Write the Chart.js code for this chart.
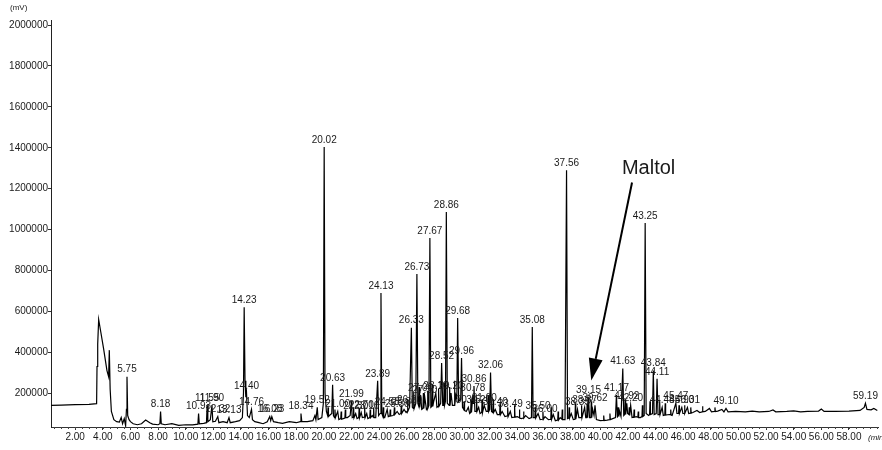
<!DOCTYPE html>
<html>
<head>
<meta charset="utf-8">
<script src="https://cdn.jsdelivr.net/npm/chart.js@4/dist/chart.umd.min.js"></script>
<style>
html,body{margin:0;padding:0;background:#fff;}
#wrap{width:882px;height:450px;position:relative;}
</style>
</head>
<body>
<div id="wrap"><canvas id="c" width="882" height="450"></canvas></div>
<script>
// ---- data ----
const xTicks = [2,4,6,8,10,12,14,16,18,20,22,24,26,28,30,32,34,36,38,40,42,44,46,48,50,52,54,56,58];
const yTicks = [200000,400000,600000,800000,1000000,1200000,1400000,1600000,1800000,2000000];
const xMinorStep = 0.5;

// trace: [retention time (min), signal]
const trace = [
[0.25,140000],[1.0,141000],[2.0,143000],[3.0,145000],[3.55,148000],[3.58,330000],[3.63,440000],[3.70,560000],[3.85,500000],[4.05,420000],[4.3,310000],[4.42,280000],[4.47,410000],[4.53,220000],[4.62,110000],[4.8,70000],[5.0,60000],[5.2,58000],[5.33,80000],[5.43,50000],[5.55,75000],[5.65,40000],[5.71,120000],[5.75,280000],[5.8,90000],[5.9,70000],[6.0,60000],[6.2,50000],[6.5,45000],[6.8,50000],[7.1,68000],[7.4,55000],[7.6,48000],[8.0,45000],[8.13,50000],[8.18,110000],[8.23,50000],[8.5,45000],[9.0,50000],[9.5,42000],[10.0,45000],[10.5,44000],[10.88,48000],[10.93,100000],[10.98,50000],[11.3,52000],[11.5,55000],[11.55,140000],[11.6,60000],[11.78,70000],[11.9,140000],[11.96,60000],[12.15,62000],[12.32,85000],[12.4,55000],[12.7,60000],[13.0,55000],[13.13,80000],[13.22,55000],[13.6,60000],[13.9,65000],[14.1,80000],[14.18,200000],[14.23,620000],[14.29,260000],[14.35,180000],[14.40,200000],[14.47,90000],[14.6,80000],[14.76,120000],[14.83,70000],[15.0,60000],[15.3,55000],[15.6,50000],[15.9,60000],[16.08,85000],[16.15,65000],[16.23,85000],[16.35,60000],[16.7,55000],[17.0,52000],[17.5,60000],[18.0,55000],[18.29,60000],[18.34,100000],[18.4,60000],[18.8,60000],[19.2,65000],[19.35,90000],[19.42,70000],[19.52,130000],[19.58,70000],[19.85,80000],
[19.96,150000],[20.02,1404000],[20.08,200000],[20.18,110000],[20.27,90000],[20.3,130000],[20.33,85000],[20.4,90000],[20.57,100000],[20.63,240000],[20.69,90000],[20.77,80000],[20.8,120000],[20.83,80000],[21.0,110000],[21.08,70000],[21.22,75000],[21.25,110000],[21.28,72000],[21.4,75000],[21.52,78000],[21.55,120000],[21.58,80000],[21.7,80000],[21.9,90000],[21.99,160000],[22.05,80000],[22.12,82000],[22.15,130000],[22.18,80000],[22.3,100000],[22.4,75000],[22.52,80000],[22.55,125000],[22.58,80000],[22.7,105000],[22.78,80000],[22.92,82000],[22.95,130000],[22.98,80000],[23.1,100000],[23.18,75000],[23.32,80000],[23.35,120000],[23.38,80000],[23.5,90000],[23.57,82000],[23.6,130000],[23.63,80000],[23.75,80000],[23.89,260000],[23.96,90000],[24.07,100000],[24.13,690000],[24.19,100000],[24.27,85000],[24.3,130000],[24.33,80000],[24.4,80000],[24.58,120000],[24.66,85000],[24.77,88000],[24.8,120000],[24.83,88000],[25.0,90000],[25.07,95000],[25.1,130000],[25.13,95000],[25.3,110000],[25.45,95000],[25.57,100000],[25.6,140000],[25.63,100000],[25.8,120000],[25.95,105000],[26.02,110000],[26.05,170000],[26.08,110000],[26.2,130000],[26.33,520000],[26.4,130000],[26.47,125000],[26.5,200000],[26.53,125000],[26.65,150000],[26.73,783000],[26.8,150000],[26.87,135000],[26.9,230000],[26.93,130000],[27.0,190000],[27.08,120000],[27.17,125000],[27.2,200000],[27.23,125000],[27.3,180000],[27.42,120000],[27.47,125000],[27.5,210000],[27.53,125000],[27.6,140000],[27.67,959000],[27.74,130000],[27.82,135000],[27.85,240000],[27.88,135000],[27.95,160000],[28.1,200000],[28.18,130000],[28.27,135000],[28.3,220000],[28.33,135000],[28.45,150000],[28.52,347000],[28.6,140000],[28.67,140000],[28.7,250000],[28.73,140000],[28.8,160000],[28.86,1086000],[28.93,150000],[29.07,140000],[29.1,230000],[29.13,140000],[29.2,200000],[29.3,140000],[29.42,140000],[29.45,260000],[29.48,140000],[29.55,190000],[29.62,170000],[29.68,567000],[29.75,160000],[29.9,170000],[29.96,372000],[30.03,130000],[30.12,120000],[30.15,160000],[30.18,115000],[30.3,110000],[30.45,130000],[30.55,100000],[30.62,105000],[30.65,170000],[30.68,105000],[30.78,190000],[30.82,150000],[30.86,235000],[30.93,110000],[31.02,110000],[31.05,180000],[31.08,110000],[31.2,130000],[31.3,100000],[31.42,105000],[31.45,170000],[31.48,105000],[31.6,140000],[31.75,110000],[31.87,110000],[31.9,190000],[31.93,110000],[32.0,120000],[32.06,300000],[32.13,110000],[32.22,105000],[32.25,170000],[32.28,105000],[32.4,120000],[32.55,95000],[32.72,95000],[32.75,150000],[32.78,95000],[32.9,110000],[33.1,85000],[33.27,88000],[33.3,130000],[33.33,85000],[33.49,110000],[33.6,80000],[33.77,82000],[33.8,140000],[33.83,82000],[34.0,85000],[34.12,80000],[34.15,120000],[34.18,78000],[34.3,75000],[34.42,78000],[34.45,110000],[34.48,78000],[34.6,90000],[34.85,75000],[35.02,80000],[35.08,523000],[35.14,80000],[35.27,80000],[35.3,130000],[35.33,78000],[35.5,100000],[35.65,70000],[35.82,72000],[35.85,110000],[35.88,72000],[36.0,85000],[36.25,70000],[36.42,72000],[36.45,130000],[36.48,72000],[36.6,95000],[36.75,65000],[36.92,68000],[36.95,110000],[36.98,68000],[37.1,80000],[37.22,72000],[37.25,120000],[37.28,70000],[37.45,70000],[37.56,1290000],[37.63,75000],[37.72,78000],[37.75,130000],[37.78,78000],[37.9,100000],[38.05,70000],[38.17,72000],[38.2,150000],[38.23,72000],[38.35,120000],[38.45,80000],[38.62,80000],[38.65,140000],[38.68,80000],[38.87,130000],[38.95,80000],[39.02,80000],[39.05,150000],[39.08,80000],[39.15,180000],[39.22,80000],[39.32,80000],[39.35,160000],[39.38,80000],[39.45,120000],[39.55,90000],[39.62,140000],[39.72,70000],[40.0,65000],[40.22,66000],[40.25,90000],[40.28,66000],[40.5,68000],[40.67,70000],[40.7,100000],[40.73,70000],[40.9,75000],[41.1,80000],[41.17,190000],[41.24,80000],[41.3,130000],[41.34,85000],[41.4,110000],[41.5,85000],[41.63,320000],[41.7,90000],[41.77,95000],[41.8,170000],[41.84,95000],[41.92,150000],[41.98,100000],[42.07,95000],[42.1,130000],[42.13,90000],[42.2,140000],[42.3,80000],[42.42,82000],[42.45,120000],[42.48,82000],[42.6,85000],[42.72,82000],[42.75,110000],[42.78,80000],[42.9,80000],[43.02,85000],[43.05,140000],[43.08,85000],[43.18,90000],[43.25,1032000],[43.32,100000],[43.5,90000],[43.57,95000],[43.6,160000],[43.63,95000],[43.78,100000],[43.84,310000],[43.9,95000],[44.05,100000],[44.11,270000],[44.18,95000],[44.27,95000],[44.3,160000],[44.33,95000],[44.48,130000],[44.56,90000],[44.67,92000],[44.7,150000],[44.73,92000],[45.0,95000],[45.07,95000],[45.1,120000],[45.13,92000],[45.2,90000],[45.47,150000],[45.55,100000],[45.67,100000],[45.7,140000],[45.73,100000],[45.9,130000],[45.98,100000],[46.07,100000],[46.1,140000],[46.13,100000],[46.31,130000],[46.4,100000],[46.52,102000],[46.55,130000],[46.58,102000],[46.7,105000],[47.0,115000],[47.2,105000],[47.37,108000],[47.4,135000],[47.43,108000],[47.6,110000],[47.9,125000],[48.05,108000],[48.27,110000],[48.3,130000],[48.33,110000],[48.5,112000],
[48.8,120000],[48.95,108000],[49.1,125000],[49.25,108000],[49.8,110000],[50.5,108000],[51.0,112000],[51.5,108000],[52.2,110000],[52.5,117000],[52.7,108000],[53.5,110000],[54.0,113000],[54.5,108000],[55.0,110000],[55.8,112000],[56.0,122000],[56.2,110000],[57.0,110000],[58.0,112000],[58.8,115000],[59.1,130000],[59.19,150000],[59.3,120000],[59.6,118000],[59.8,125000],[60.05,115000]
];

// labelled peaks: retention time and apex height
const peakTimes  = [5.75,8.18,10.93,11.55,11.90,12.32,13.13,14.23,14.40,14.76,16.08,16.23,18.34,19.52,20.02,20.63,21.00,21.99,22.30,22.70,23.10,23.89,24.13,24.58,25.30,25.80,26.20,26.33,26.73,27.00,27.30,27.67,28.10,28.52,28.86,29.20,29.68,29.96,30.45,30.78,30.86,31.20,31.60,32.06,32.40,33.49,35.08,35.50,36.00,37.56,38.35,38.87,39.15,39.62,41.17,41.63,41.92,42.20,43.25,43.84,44.11,44.48,45.47,45.90,46.31,49.10,59.19];
const peakHeights= [280000,110000,100000,140000,140000,85000,80000,620000,200000,120000,85000,85000,100000,130000,1404000,240000,110000,160000,100000,105000,100000,260000,690000,120000,110000,120000,130000,520000,783000,190000,180000,959000,200000,347000,1086000,200000,567000,372000,130000,190000,235000,130000,140000,300000,120000,110000,523000,100000,85000,1290000,120000,130000,180000,140000,190000,320000,150000,140000,1032000,310000,270000,130000,150000,130000,130000,125000,150000];

// annotation
const noteText = "Maltol";
const noteTextAt = [43.5, 1300000];
const arrowFrom = [42.3, 1230000];
const arrowTo = [39.35, 262000];

const FONT = '"Liberation Sans", Arial, sans-serif';
const INK = '#1a1a1a';

const annot = {
  id: 'annot',
  afterDatasetsDraw(chart) {
    const {ctx, scales:{x, y}, chartArea:ca} = chart;
    ctx.save();
    // minor ticks on the time axis
    ctx.strokeStyle = '#444';
    ctx.lineWidth = 1;
    ctx.beginPath();
    for (let t = Math.ceil(x.min / xMinorStep) * xMinorStep; t <= x.max; t += xMinorStep) {
      const px = Math.round(x.getPixelForValue(t)) + 0.5;
      ctx.moveTo(px, ca.bottom); ctx.lineTo(px, ca.bottom + 2);
    }
    ctx.stroke();

    ctx.fillStyle = INK;
    ctx.font = '10px ' + FONT;
    ctx.textAlign = 'center';
    ctx.textBaseline = 'bottom';
    for (let i = 0; i < peakTimes.length; i++) {
      const px = x.getPixelForValue(peakTimes[i]);
      const py = y.getPixelForValue(peakHeights[i]) - 2;
      ctx.fillText(peakTimes[i].toFixed(2), px, py);
    }
    // Maltol note
    ctx.font = '20px ' + FONT;
    ctx.textBaseline = 'middle';
    ctx.fillText(noteText, x.getPixelForValue(noteTextAt[0]), y.getPixelForValue(noteTextAt[1]));
    const x0 = x.getPixelForValue(arrowFrom[0]), y0 = y.getPixelForValue(arrowFrom[1]);
    const x1 = x.getPixelForValue(arrowTo[0]), y1 = y.getPixelForValue(arrowTo[1]);
    const ang = Math.atan2(y1 - y0, x1 - x0);
    const hl = 22, hw = 7;
    const bx = x1 - hl * Math.cos(ang), by = y1 - hl * Math.sin(ang);
    ctx.strokeStyle = '#000';
    ctx.lineWidth = 2;
    ctx.beginPath(); ctx.moveTo(x0, y0); ctx.lineTo(bx, by); ctx.stroke();
    ctx.fillStyle = '#000';
    ctx.beginPath();
    ctx.moveTo(x1, y1);
    ctx.lineTo(bx + hw * Math.sin(ang), by - hw * Math.cos(ang));
    ctx.lineTo(bx - hw * Math.sin(ang), by + hw * Math.cos(ang));
    ctx.closePath(); ctx.fill();
    // axis unit labels
    ctx.fillStyle = INK;
    ctx.font = '8px ' + FONT;
    ctx.textAlign = 'left';
    ctx.textBaseline = 'middle';
    ctx.fillText('(mV)', 10, 8);
    ctx.font = 'italic 8px ' + FONT;
    ctx.fillText('(min', ca.right - 10, ca.bottom + 11);
    ctx.restore();
  }
};

new Chart(document.getElementById('c'), {
  type: 'scatter',
  data: {
    datasets: [{
      data: trace.map(p => ({x: p[0], y: p[1]})),
      showLine: true,
      borderColor: '#000',
      borderWidth: 1.2,
      pointRadius: 0,
      tension: 0
    }]
  },
  options: {
    responsive: false,
    animation: false,
    devicePixelRatio: 1,
    layout: {padding: {left: 0, right: 4, top: 20, bottom: 0}},
    plugins: {legend: {display: false}, tooltip: {enabled: false}},
    scales: {
      x: {
        type: 'linear', min: 0.25, max: 60.1,
        afterBuildTicks: s => { s.ticks = xTicks.map(v => ({value: v})); },
        afterFit: s => { s.height = 23; },
        grid: {drawOnChartArea: false, drawTicks: true, tickLength: 3, color: '#333'},
        border: {display: true, color: '#333', width: 1},
        ticks: {color: INK, font: {family: FONT, size: 10}, padding: 1, maxRotation: 0,
                autoSkip: false, callback: v => v.toFixed(2)}
      },
      y: {
        type: 'linear', min: 34000, max: 2025000,
        afterBuildTicks: s => { s.ticks = yTicks.map(v => ({value: v})); },
        afterFit: s => { s.width = 51; },
        grid: {drawOnChartArea: false, drawTicks: true, tickLength: 3, color: '#333'},
        border: {display: true, color: '#222', width: 1},
        ticks: {color: INK, font: {family: FONT, size: 10}, padding: 0, autoSkip: false,
                callback: v => String(v)}
      }
    }
  },
  plugins: [annot]
});
</script>
</body>
</html>
